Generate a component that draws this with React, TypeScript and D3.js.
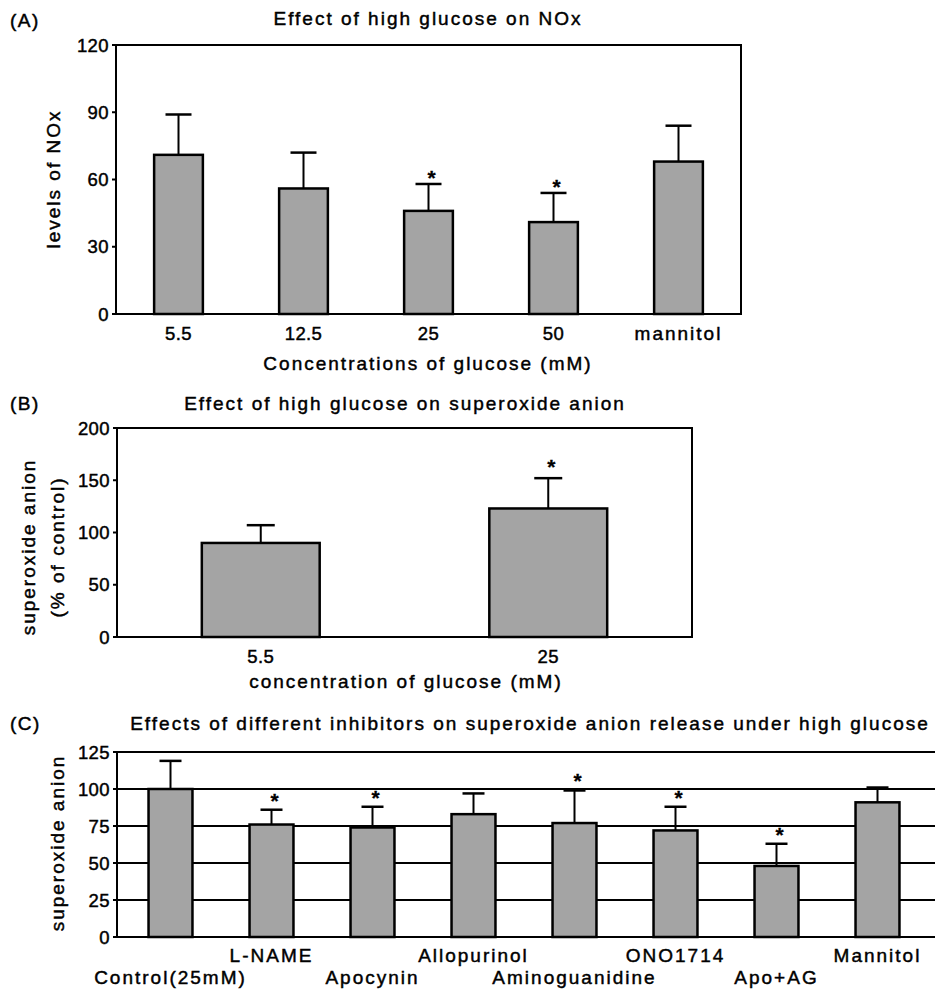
import React from 'react';
import * as d3 from 'd3';

// (A) NOx
const noxGroups = ['5.5', '12.5', '25', '50', 'mannitol'];
const noxMeans = [71, 56, 46, 41, 68];
const noxErr = [18, 16, 12, 13, 16];
const noxStar = [false, false, true, true, false];
const noxTicks = [0, 30, 60, 90, 120];

// (B) superoxide, % of control
const supGroups = ['5.5', '25'];
const supMeans = [90, 123];
const supErr = [17, 29];
const supStar = [false, true];
const supTicks = [0, 50, 100, 150, 200];

// (C) inhibitors
const inhGroups = ['Control(25mM)', 'L-NAME', 'Apocynin', 'Allopurinol', 'Aminoguanidine', 'ONO1714', 'Apo+AG', 'Mannitol'];
const inhMeans = [100, 76, 74, 83, 77, 72, 48, 91];
const inhErr = [19, 10, 14, 14, 22, 16, 15, 10];
const inhStar = [false, true, true, false, true, true, true, false];
const inhTicks = [0, 25, 50, 75, 100, 125];
const inhGrid = [25, 50, 75, 100];

const FONT = '"Liberation Sans", Arial, Helvetica, sans-serif';
// scanned text is a little wide and heavy
const txt = { fontFamily: FONT, fontSize: 19, letterSpacing: 2, fill: '#000', stroke: '#000', strokeWidth: 0.45 };
const tickTxt = { ...txt, fontSize: 18.5, letterSpacing: 0.4 };
const BAR_FILL = '#a4a4a4';

type BarsProps = {
  groups: string[];
  means: number[];
  errs: number[];
  stars: boolean[];
  x: d3.ScaleBand<string>;
  y: d3.ScaleLinear<number, number>;
  frac: number;
  capW: number;
  starGap: number;
};

const Bars = ({ groups, means, errs, stars, x, y, frac, capW, starGap }: BarsProps) => {
  const bw = x.bandwidth() * frac;
  return (
    <g>
      {groups.map((g, i) => {
        const cx = (x(g) as number) + x.bandwidth() / 2;
        const top = y(means[i]);
        const cap = y(means[i] + errs[i]);
        return (
          <g key={g}>
            <line x1={cx} x2={cx} y1={top} y2={cap} stroke="#000" strokeWidth={2} />
            <line x1={cx - capW / 2} x2={cx + capW / 2} y1={cap} y2={cap} stroke="#000" strokeWidth={2.5} />
            <rect x={cx - bw / 2} y={top} width={bw} height={y(0) - top} fill={BAR_FILL} stroke="#000" strokeWidth={2.5} />
            {stars[i] && (
              <text x={cx + 3} y={cap - starGap} textAnchor="middle"
                style={{ ...txt, fontSize: 21, fontWeight: 'bold', letterSpacing: 0, strokeWidth: 0.3 }}>*</text>
            )}
          </g>
        );
      })}
    </g>
  );
};

const YAxis = ({ y, ticks, left }: { y: d3.ScaleLinear<number, number>; ticks: number[]; left: number }) => (
  <g>
    {ticks.map((t) => (
      <g key={t}>
        <line x1={left - 4} x2={left} y1={y(t)} y2={y(t)} stroke="#000" strokeWidth={2} />
        <text x={left - 7} y={y(t)} dy="0.36em" textAnchor="end" style={tickTxt}>{t}</text>
      </g>
    ))}
  </g>
);

export default function App() {
  // panel A
  const aL = 116, aR = 741, aT = 45, aB = 314;
  const xA = d3.scaleBand<string>().domain(noxGroups).range([aL, aR]).padding(0);
  const yA = d3.scaleLinear().domain([0, 120]).range([aB, aT]);

  // panel B
  const bL = 117, bR = 692, bT = 428, bB = 637;
  const xB = d3.scaleBand<string>().domain(supGroups).range([bL, bR]).padding(0);
  const yB = d3.scaleLinear().domain([0, 200]).range([bB, bT]);

  // panel C
  const cL = 117, cR = 935, cT = 752, cB = 937;
  const xC = d3.scaleBand<string>().domain(inhGroups).range([120, 928]).padding(0);
  const yC = d3.scaleLinear().domain([0, 125]).range([cB, cT]);

  return (
    <svg width={935} height={990} style={{ position: 'absolute', left: 0, top: 0, background: '#fff' }}>
      <rect width={935} height={990} fill="#fff" />

      {/* (A) */}
      <text x={10} y={27} style={{ ...txt, letterSpacing: 1.5 }}>(A)</text>
      <text x={428} y={25} textAnchor="middle" style={txt}>Effect of high glucose on NOx</text>
      <rect x={aL} y={aT} width={aR - aL} height={aB - aT} fill="none" stroke="#000" strokeWidth={2} />
      <YAxis y={yA} ticks={noxTicks} left={aL} />
      <Bars groups={noxGroups} means={noxMeans} errs={noxErr} stars={noxStar} x={xA} y={yA} frac={0.39} capW={26} starGap={-1} />
      {noxGroups.map((g) => (
        <text key={g} x={(xA(g) as number) + xA.bandwidth() / 2} y={340} textAnchor="middle" style={g.length > 4 ? txt : tickTxt}>{g}</text>
      ))}
      <text x={428} y={370} textAnchor="middle" style={txt}>Concentrations of glucose (mM)</text>
      <text transform={`translate(53,179) rotate(-90)`} dy="0.36em" textAnchor="middle" style={txt}>levels of NOx</text>

      {/* (B) */}
      <text x={10} y={410} style={{ ...txt, letterSpacing: 1.5 }}>(B)</text>
      <text x={405} y={410} textAnchor="middle" style={txt}>Effect of high glucose on superoxide anion</text>
      <rect x={bL} y={bT} width={bR - bL} height={bB - bT} fill="none" stroke="#000" strokeWidth={2} />
      <YAxis y={yB} ticks={supTicks} left={bL} />
      <Bars groups={supGroups} means={supMeans} errs={supErr} stars={supStar} x={xB} y={yB} frac={0.41} capW={28} starGap={4} />
      {supGroups.map((g) => (
        <text key={g} x={(xB(g) as number) + xB.bandwidth() / 2} y={663} textAnchor="middle" style={tickTxt}>{g}</text>
      ))}
      <text x={406} y={688} textAnchor="middle" style={txt}>concentration of glucose (mM)</text>
      <text transform={`translate(28,547) rotate(-90)`} dy="0.36em" textAnchor="middle" style={txt}>superoxide anion</text>
      <text transform={`translate(57,547) rotate(-90)`} dy="0.36em" textAnchor="middle" style={txt}>(% of control)</text>

      {/* (C) */}
      <text x={10} y={730} style={{ ...txt, letterSpacing: 1.5 }}>(C)</text>
      <text x={530} y={730} textAnchor="middle" style={txt}>Effects of different inhibitors on superoxide anion release under high glucose</text>
      {inhGrid.map((t) => (
        <line key={t} x1={cL} x2={cR} y1={yC(t)} y2={yC(t)} stroke="#000" strokeWidth={2} />
      ))}
      <line x1={cL} x2={cR} y1={cT} y2={cT} stroke="#000" strokeWidth={2} />
      <line x1={cL} x2={cR} y1={cB} y2={cB} stroke="#000" strokeWidth={2} />
      <line x1={cL} x2={cL} y1={cT} y2={cB} stroke="#000" strokeWidth={2} />
      <YAxis y={yC} ticks={inhTicks} left={cL} />
      <Bars groups={inhGroups} means={inhMeans} errs={inhErr} stars={inhStar} x={xC} y={yC} frac={0.435} capW={22} starGap={2} />
      {inhGroups.map((g, i) => (
        <text key={g} x={(xC(g) as number) + xC.bandwidth() / 2} y={i % 2 === 0 ? 984 : 962} textAnchor="middle" style={txt}>{g}</text>
      ))}
      <text transform={`translate(57,843) rotate(-90)`} dy="0.36em" textAnchor="middle" style={txt}>superoxide anion</text>
    </svg>
  );
}
